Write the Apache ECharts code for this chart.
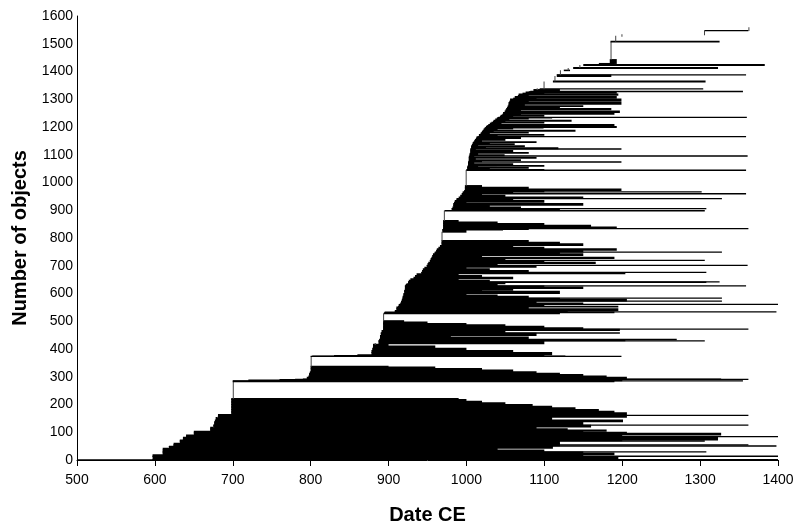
<!DOCTYPE html>
<html>
<head>
<meta charset="utf-8">
<script src="https://cdn.jsdelivr.net/npm/echarts@6/dist/echarts.min.js"></script>
<style>
	html, body { margin: 0; padding: 0; background: #fff; }
	#main { width: 794px; height: 526px; }
</style>
</head>
<body>
<div id="main"></div>
<script>
// each row: [number of objects, start date, end date], stacked from the bottom up
const rows600 = [
	[1, 500, 1400], [1, 597, 1400], [11, 597, 1195], [1, 597, 1400], [5, 597, 1150],
	[6, 610, 1190], [4, 610, 1150], [1, 610, 1308], [6, 610, 1100], [6, 610, 1040],
	[6, 618, 1111], [1, 618, 970], [1, 618, 1111],
	[1, 624, 1398], [3, 624, 1120], [1, 624, 1362], [5, 624, 1120],
	[8, 632, 1120], [1, 632, 1306], [3, 632, 1200], [3, 636, 1323], [1, 636, 800], [6, 636, 1323],
	[2, 640, 1200], [1, 640, 1400], [5, 640, 1200],
	[6, 650, 1327], [4, 650, 1206], [4, 650, 1150],
	[4, 671, 1180], [5, 671, 1130], [5, 671, 1090], [1, 675, 676],
	[6, 675, 1160], [1, 675, 1362], [12, 676, 1150], [6, 677, 1201], [9, 678, 1110], [1, 680, 681],
	[6, 681, 1206], [1, 681, 1362], [3, 681, 1200]
];

const rows700 = [
	[6, 698, 1206], [6, 698, 1190], [6, 698, 1170], [6, 698, 1140], [6, 698, 1110],
	[6, 698, 1085], [6, 698, 1050], [6, 698, 1020], [6, 698, 1000], [4, 698, 990],
	[60, 700, 701],
	[3, 700, 1190], [1, 700, 1355], [2, 720, 1200], [2, 760, 1200], [1, 780, 1362], [1, 790, 1327],
	[6, 795, 1206], [5, 797, 1180], [5, 798, 1150], [5, 798, 1120], [5, 799, 1090],
	[6, 800, 1060], [6, 800, 1020], [5, 800, 960], [3, 800, 900],
	[35, 800, 801],
	[1, 800, 1199], [1, 802, 1127], [2, 830, 1100], [2, 860, 1050]
];

const rows800 = [
	[8, 878, 1110], [8, 878, 1060], [8, 879, 1000], [8, 880, 960], [6, 880, 900], [2, 882, 884],
	[10, 887, 1100], [1, 887, 1306], [3, 888, 1204], [2, 888, 1270], [8, 889, 1080],
	[6, 889, 980], [8, 890, 1090], [2, 890, 1197], [8, 891, 1050],
	[4, 893, 1197], [1, 893, 1362], [5, 893, 1150], [5, 893, 1100], [5, 893, 1050],
	[5, 893, 1000], [5, 893, 950], [5, 893, 920],
	[25, 893, 894],
	[4, 894, 1120], [2, 895, 1190],
	[1, 908, 1398], [5, 908, 1130], [6, 910, 1195], [6, 910, 1080]
];

const rows900 = [
	[3, 912, 1195], [6, 913, 1100], [1, 914, 1400], [5, 915, 1150], [6, 916, 1090], [1, 917, 1328],
	[6, 917, 1206], [4, 918, 1120], [1, 918, 1328], [6, 918, 1080], [5, 919, 1040], [5, 919, 1000],
	[8, 920, 1120], [4, 920, 1020], [6, 921, 1060], [5, 921, 1150],
	[4, 921, 1100], [1, 921, 1359], [4, 922, 1040], [3, 923, 1000],
	[5, 925, 1050], [1, 925, 1308], [1, 925, 1325], [6, 926, 1030], [5, 928, 990],
	[6, 932, 1060], [6, 934, 1020], [6, 936, 990],
	[5, 942, 1204], [1, 942, 1308], [6, 943, 1080], [6, 944, 1030], [6, 946, 1000],
	[6, 949, 1090], [1, 949, 1361], [6, 950, 1040], [5, 951, 1166],
	[6, 953, 1100], [1, 953, 1306], [6, 954, 1050], [5, 955, 1190], [6, 956, 1020],
	[6, 957, 1150], [6, 959, 1120], [1, 960, 1328], [6, 961, 1150], [5, 962, 1193], [6, 964, 1100], [6, 966, 1060],
	[6, 968, 1150], [6, 968, 1120], [6, 968, 1080],
	[30, 968, 969],
	[8, 969, 1000], [2, 969, 1047], [2, 970, 1080],
	[1, 970, 1362], [6, 970, 1193], [6, 970, 1160], [6, 970, 1100], [6, 970, 1040], [5, 970, 990],
	[34, 971, 972],
	[2, 972, 1306],
	[6, 981, 1120], [1, 981, 1308], [6, 982, 1070], [6, 983, 1030], [6, 983, 1150], [5, 984, 1000],
	[6, 985, 1100], [6, 987, 1060], [1, 988, 1328], [6, 990, 1150], [6, 992, 1050], [5, 994, 1020],
	[1, 994, 1359], [6, 995, 1060], [1, 996, 1302], [4, 997, 1100],
	[6, 998, 1199], [6, 998, 1080], [6, 998, 1020]
];

const rows1000 = [
	[54, 999, 1000],
	[2, 1000, 1359], [2, 1000, 1100],
	[4, 1001, 1030], [3, 1001, 1080], [5, 1001, 1015], [2, 1002, 1100], [4, 1002, 1039], [3, 1002, 1060],
	[5, 1002, 1010], [2, 1002, 1199], [4, 1003, 1020], [3, 1003, 1070], [5, 1003, 1012], [3, 1003, 1090],
	[5, 1003, 1010], [1, 1004, 1361], [4, 1004, 1049], [5, 1004, 1015], [3, 1005, 1080], [4, 1005, 1030],
	[3, 1005, 1060], [5, 1005, 1012], [2, 1005, 1199], [3, 1006, 1118], [4, 1006, 1025], [3, 1006, 1075],
	[5, 1007, 1015], [3, 1008, 1062], [4, 1008, 1030], [3, 1009, 1090], [5, 1010, 1020], [3, 1011, 1050],
	[4, 1012, 1030], [3, 1013, 1070], [3, 1013, 1041],
	[1, 1015, 1359], [4, 1016, 1040], [3, 1016, 1100], [5, 1018, 1030], [3, 1019, 1080], [4, 1020, 1035],
	[3, 1021, 1140], [5, 1022, 1040], [3, 1023, 1060], [2, 1024, 1099],
	[4, 1025, 1193], [3, 1026, 1050], [4, 1028, 1190], [5, 1030, 1045], [3, 1032, 1100], [4, 1034, 1050],
	[3, 1035, 1135], [5, 1037, 1055], [3, 1039, 1080], [2, 1040, 1110],
	[1, 1041, 1360], [4, 1043, 1060], [3, 1044, 1100], [4, 1046, 1070], [6, 1047, 1190], [6, 1049, 1197],
	[4, 1050, 1070], [5, 1051, 1186], [3, 1052, 1120],
	[4, 1053, 1080], [3, 1053, 1150], [5, 1054, 1075], [6, 1054, 1199], [5, 1055, 1080],
	[8, 1056, 1199], [3, 1060, 1090], [6, 1062, 1193], [4, 1066, 1080], [5, 1067, 1195], [3, 1072, 1100],
	[4, 1076, 1193], [1, 1080, 1190],
	[2, 1082, 1355],
	[6, 1086, 1120], [2, 1090, 1092], [1, 1094, 1304]
];

const rows1100 = [
	[24, 1099, 1100], [4, 1111, 1307], [16, 1113, 1114], [5, 1116, 1186], [1, 1116, 1359],
	[15, 1120, 1121], [2, 1125, 1133], [6, 1130, 1131], [3, 1137, 1323], [8, 1145, 1146],
	[3, 1150, 1383], [4, 1170, 1190], [14, 1184, 1193], [63, 1185, 1186], [3, 1185, 1325],
	[18, 1191, 1192], [5, 1199, 1200], [15, 1305, 1306], [1, 1306, 1362], [10, 1362, 1363]
];

const allRows = [].concat(rows600, rows700, rows800, rows900, rows1000, rows1100);

// [start, end, first object index, last object index]
const objectData = [];
let stacked = 0;
allRows.forEach(r => {
	objectData.push([r[1], r[2], stacked, stacked + r[0]]);
	stacked += r[0];
});

const renderRow = (params, api) => {
	const topLeft = api.coord([api.value(0), api.value(3)]);
	const bottomRight = api.coord([api.value(1), api.value(2)]);
	const width = bottomRight[0] - topLeft[0];
	return {
		type: 'rect',
		shape: {
			x: topLeft[0],
			y: topLeft[1] - 0.5,
			width: Math.max(width, 1),
			height: Math.max(bottomRight[1] - topLeft[1], 0) + 1
		},
		// objects with a single date only show as a faint dotted edge
		style: { fill: width < 2 ? '#444' : '#000' }
	};
};

const font = 'Liberation Sans';

const myChart = echarts.init(document.getElementById('main'));

const option = {
	animation: false,
	backgroundColor: '#fff',
	grid: { left: 77, right: 16, top: 16, bottom: 66, outerBoundsMode: 'none' },
	xAxis: {
		type: 'value',
		min: 500,
		max: 1400,
		interval: 100,
		name: 'Date CE',
		nameLocation: 'middle',
		nameGap: 45,
		nameTextStyle: { fontFamily: font, fontSize: 20, fontWeight: 'bold', color: '#000' },
		axisLine: { lineStyle: { color: '#000', width: 1 } },
		axisTick: { length: 6, lineStyle: { color: '#000' } },
		axisLabel: { margin: 13, fontFamily: font, fontSize: 14, color: '#000', formatter: v => String(v) },
		splitLine: { show: false }
	},
	yAxis: {
		type: 'value',
		min: 0,
		max: 1600,
		interval: 100,
		name: 'Number of objects',
		nameLocation: 'middle',
		nameGap: 46,
		nameTextStyle: { fontFamily: font, fontSize: 20, fontWeight: 'bold', color: '#000' },
		axisLine: { show: true, lineStyle: { color: '#000', width: 1 } },
		axisTick: { show: false },
		axisLabel: { margin: 4, fontFamily: font, fontSize: 14, color: '#000', formatter: v => String(v) },
		splitLine: { show: false }
	},
	series: [
		{
			type: 'custom',
			renderItem: renderRow,
			clip: true,
			encode: { x: [0, 1], y: [2, 3] },
			data: objectData
		}
	]
};

myChart.setOption(option);
</script>
</body>
</html>
